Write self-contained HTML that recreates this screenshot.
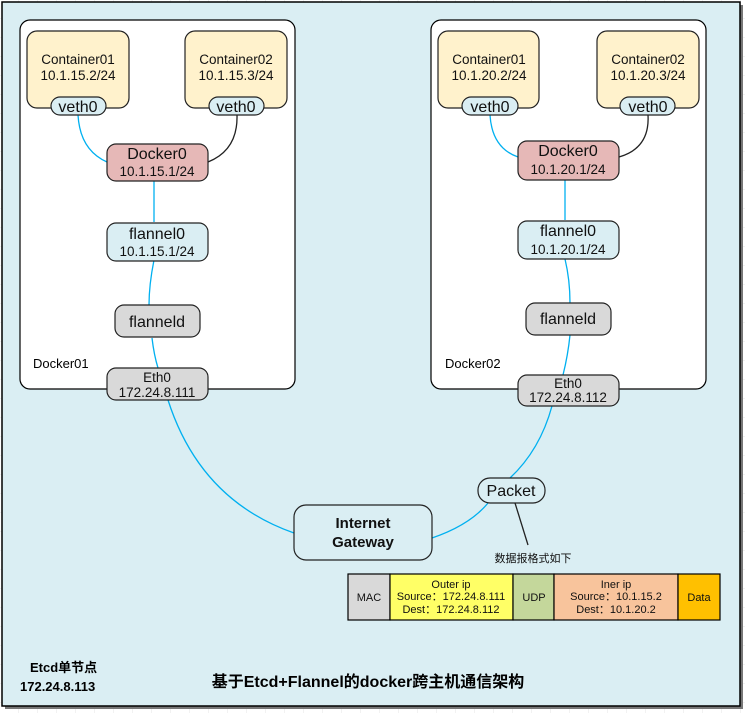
<!DOCTYPE html>
<html><head><meta charset="utf-8"><style>
html,body{margin:0;padding:0;background:#fff;}
svg{display:block;font-family:"Liberation Sans","Noto Sans CJK SC",sans-serif;}
</style></head><body>
<svg width="745" height="713" viewBox="0 0 745 713" xmlns="http://www.w3.org/2000/svg">
<defs>
<pattern id="g" width="19" height="19" patternUnits="userSpaceOnUse"><path d="M19 0V19H0" fill="none" stroke="#e4e4e4" stroke-width="1"/></pattern>
</defs>
<rect width="745" height="713" fill="url(#g)"/>
<rect x="5" y="5" width="738" height="704" fill="#777"/>
<rect x="2" y="2" width="738" height="704" fill="#DAEEF3" stroke="#000" stroke-width="1.5"/>

<rect x="20" y="20" width="275" height="369" rx="10" fill="#fff" stroke="#000" stroke-width="1.2"/>
<rect x="431" y="20" width="275" height="369" rx="10" fill="#fff" stroke="#000" stroke-width="1.2"/>
<text x="33" y="368" font-size="13">Docker01</text>
<text x="445" y="368" font-size="13">Docker02</text>

<g fill="none" stroke-width="1.3">
<path d="M78 115 Q80 150 107 162" stroke="#00B0F0"/>
<path d="M237 115 Q238 150 208 162" stroke="#222"/>
<path d="M154 181 L154 222" stroke="#00B0F0"/>
<path d="M154 260 Q149 285 149 305" stroke="#00B0F0"/>
<path d="M152 338 Q154 355 158 368" stroke="#00B0F0"/>
<path d="M168 400 Q200 500 294 533" stroke="#00B0F0"/>
<path d="M490 115 Q492 148 518 157" stroke="#00B0F0"/>
<path d="M648 115 Q650 148 619 157" stroke="#222"/>
<path d="M565 180 L565 220" stroke="#00B0F0"/>
<path d="M565 259 Q570 280 570 303" stroke="#00B0F0"/>
<path d="M570 335 Q568 355 563 375" stroke="#00B0F0"/>
<path d="M552 406 Q540 450 510 478" stroke="#00B0F0"/>
<path d="M432 538 Q470 525 488 503" stroke="#00B0F0"/>
<path d="M515 503 L528 545" stroke="#222"/>
</g>

<g stroke="#222" stroke-width="1.2">
<rect x="27" y="31" width="102" height="77" rx="10" fill="#FFF2CC"/>
<rect x="185" y="31" width="102" height="77" rx="10" fill="#FFF2CC"/>
<rect x="51" y="97" width="55" height="18" rx="9" fill="#DAEEF3"/>
<rect x="209" y="97" width="55" height="18" rx="9" fill="#DAEEF3"/>
<rect x="107" y="144" width="101" height="37" rx="9" fill="#E6B8B7"/>
<rect x="107" y="223" width="101" height="38" rx="9" fill="#DAEEF3"/>
<rect x="115" y="305" width="85" height="32" rx="9" fill="#D9D9D9"/>
<rect x="107" y="368" width="101" height="32" rx="9" fill="#D9D9D9"/>

<rect x="438" y="31" width="101" height="77" rx="10" fill="#FFF2CC"/>
<rect x="597" y="31" width="102" height="77" rx="10" fill="#FFF2CC"/>
<rect x="462" y="97" width="56" height="18" rx="9" fill="#DAEEF3"/>
<rect x="620" y="97" width="55" height="18" rx="9" fill="#DAEEF3"/>
<rect x="518" y="141" width="101" height="39" rx="9" fill="#E6B8B7"/>
<rect x="518" y="221" width="101" height="38" rx="9" fill="#DAEEF3"/>
<rect x="526" y="303" width="85" height="32" rx="9" fill="#D9D9D9"/>
<rect x="518" y="375" width="101" height="31" rx="9" fill="#D9D9D9"/>

<rect x="478" y="478" width="67" height="25" rx="12" fill="#DAEEF3"/>
<rect x="294" y="505" width="138" height="55" rx="12" fill="#DAEEF3"/>
</g>

<g font-size="13.5" text-anchor="middle" fill="#111">
<text x="78" y="64">Container01</text><text x="78" y="80">10.1.15.2/24</text>
<text x="236" y="64">Container02</text><text x="236" y="80">10.1.15.3/24</text>
<text x="78" y="112" font-size="16">veth0</text>
<text x="236" y="112" font-size="16">veth0</text>
<text x="157" y="159" font-size="16">Docker0</text><text x="157" y="176">10.1.15.1/24</text>
<text x="157" y="239" font-size="16">flannel0</text><text x="157" y="256">10.1.15.1/24</text>
<text x="157" y="327" font-size="16">flanneld</text>
<text x="157" y="382">Eth0</text><text x="157" y="397">172.24.8.111</text>

<text x="489" y="64">Container01</text><text x="489" y="80">10.1.20.2/24</text>
<text x="648" y="64">Container02</text><text x="648" y="80">10.1.20.3/24</text>
<text x="490" y="112" font-size="16">veth0</text>
<text x="648" y="112" font-size="16">veth0</text>
<text x="568" y="156" font-size="16">Docker0</text><text x="568" y="174">10.1.20.1/24</text>
<text x="568" y="236" font-size="16">flannel0</text><text x="568" y="254">10.1.20.1/24</text>
<text x="568" y="324" font-size="16">flanneld</text>
<text x="568" y="388">Eth0</text><text x="568" y="402">172.24.8.112</text>

<text x="511" y="496" font-size="16">Packet</text>
<text x="363" y="528" font-size="15" font-weight="bold">Internet</text>
<text x="363" y="547" font-size="15" font-weight="bold">Gateway</text>
<text x="533" y="562" font-size="11">数据报格式如下</text>
</g>

<g stroke="#000" stroke-width="1.2">
<rect x="348" y="574" width="42" height="46" fill="#D9D9D9"/>
<rect x="390" y="574" width="123" height="46" fill="#FFFF66"/>
<rect x="513" y="574" width="41" height="46" fill="#C4D79B"/>
<rect x="554" y="574" width="124" height="46" fill="#F8C49C"/>
<rect x="678" y="574" width="42" height="46" fill="#FFC000"/>
</g>
<g font-size="11" text-anchor="middle" fill="#111">
<text x="369" y="601">MAC</text>
<text x="451" y="588">Outer ip</text>
<text x="451" y="600">Source：172.24.8.111</text>
<text x="451" y="613">Dest：172.24.8.112</text>
<text x="534" y="601">UDP</text>
<text x="616" y="588">Iner ip</text>
<text x="616" y="600">Source：10.1.15.2</text>
<text x="616" y="613">Dest：10.1.20.2</text>
<text x="699" y="601">Data</text>
</g>

<text x="30" y="672" font-size="13" font-weight="bold">Etcd单节点</text>
<text x="20" y="691" font-size="13" font-weight="bold">172.24.8.113</text>
<text x="368" y="687" font-size="16" font-weight="bold" text-anchor="middle">基于Etcd+Flannel的docker跨主机通信架构</text>
</svg>
</body></html>
